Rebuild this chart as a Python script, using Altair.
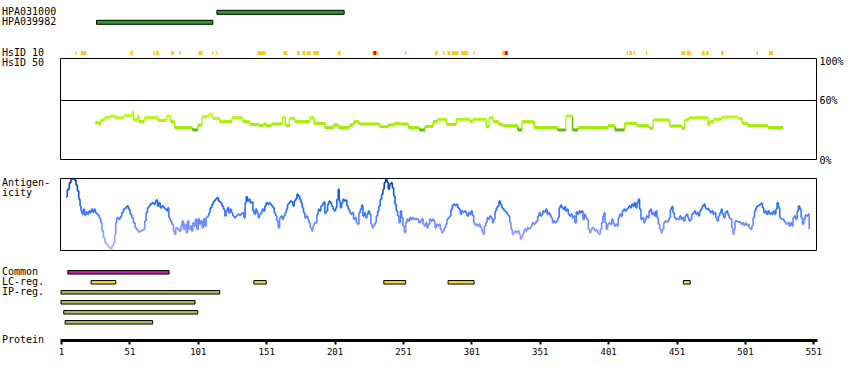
import altair as alt
import pandas as pd

FONT = "DejaVu Sans Mono"

# ---------------- data ----------------
antibody_names = ["HPA031000", "HPA039982"]
antibody_start = [115, 27]
antibody_end = [208, 112]

hs10_start = [12, 16, 52, 69, 71, 82, 88, 102, 112, 115, 145, 164, 174, 178, 181, 186, 204, 229, 253, 275,
              281, 284, 287, 294, 303, 324, 415, 417, 420, 429, 455, 459, 470, 473, 484, 510, 519]
hs10_end = [12, 19, 53, 69, 72, 83, 88, 104, 112, 115, 150, 166, 175, 179, 183, 189, 205, 232, 253, 276,
            281, 285, 291, 298, 303, 327, 415, 418, 420, 429, 457, 461, 471, 474, 485, 510, 521]
hs10_red_start = [230, 326]
hs10_red_end = [231, 327]

hs50_start = [26, 29, 30, 33, 37, 41, 47, 53, 54, 57, 58, 62, 72, 78, 81, 84, 97, 101, 104, 109,
              112, 117, 126, 134, 139, 146, 149, 151, 155, 163, 165, 168, 172, 183, 186, 194, 200, 204, 212, 215,
              219, 234, 240, 245, 249, 255, 263, 267, 273, 276, 283, 290, 300, 302, 312, 314, 317, 321, 324, 335,
              338, 347, 364, 370, 375, 379, 401, 406, 413, 422, 431, 434, 446, 455, 457, 460, 474, 475, 478, 484,
              496, 499, 503, 518]
hs50_pct = [36.7, 35.0, 39.4, 42.0, 43.3, 41.4, 43.7, 47.6, 39.4, 43.3, 37.8, 41.7, 39.0, 43.3, 37.8, 31.9, 29.6, 34.5, 42.7, 45.3,
            41.0, 37.8, 41.7, 37.8, 35.1, 33.8, 35.5, 33.8, 35.5, 42.0, 33.8, 41.0, 37.8, 41.7, 36.1, 31.9, 34.5, 31.9, 34.5, 37.8,
            35.5, 32.8, 34.5, 36.1, 35.5, 31.9, 29.6, 33.1, 37.8, 40.1, 35.1, 40.1, 37.8, 40.1, 32.8, 41.7, 37.8, 35.1, 33.8, 29.6,
            37.8, 31.9, 29.6, 43.3, 29.6, 31.9, 33.8, 29.6, 36.1, 33.8, 31.2, 39.4, 33.5, 31.2, 39.4, 41.7, 34.5, 37.8, 40.1, 42.4,
            41.0, 36.1, 33.8, 31.9]
hs50_last = 529

antigen_a = [
    (4.7, 53.3), (5.6, 60.7), (7.1, 67.3), (8.3, 70.7), (9.5, 71.3), (10.8, 70), (12, 64.7), (13, 59), (14, 50.7), (14.9, 44),
    (15.6, 39), (16.4, 35.7), (17.3, 40.7), (18.3, 34.7), (19.3, 38), (20.3, 35.7), (21.3, 39), (22.2, 37.3), (23.2, 40.7), (24.2, 38),
    (25.2, 40.7), (26.1, 37.3), (27.1, 35.7), (28.1, 34.7), (29.1, 31.3), (30.1, 27.3), (31, 19), (32, 12.3), (33.2, 7.3), (34.4, 4.7),
    (35.6, 3), (36.9, 0.7), (38.1, 4), (39.3, 7.3), (40.3, 15.7), (41, 27.3), (41.7, 32.3), (43, 30.7), (44.2, 33.3), (45.4, 37.3),
    (46.6, 40.7), (47.8, 42.3), (49.1, 44), (50.3, 40.7), (51.5, 35.7), (52.7, 32.3), (53.9, 27.3), (55.2, 22.3), (56.4, 20), (57.6, 18),
    (58.8, 19), (60, 19.7), (61.3, 20.7), (62.2, 29), (63.2, 37.3), (64.2, 42.3), (65.2, 44), (66.1, 45.7), (67.4, 47.3), (68.6, 45.7),
    (69.8, 48), (70.5, 50), (71.5, 44), (72.5, 47.3), (73.5, 42.3), (74.7, 44), (75.9, 42.3), (77.1, 40.7), (78.3, 39), (79.1, 42.3),
    (79.8, 32.3), (80.8, 29), (82, 25.7), (83.2, 19), (83.9, 15.7), (84.9, 22.3), (86.1, 20.7), (87.4, 19), (88.6, 24), (89.6, 29),
    (90.5, 20.7), (91.5, 25.7), (92.5, 17.3), (93.5, 29), (94.4, 20.7), (95.4, 24), (96.4, 19), (97.4, 27.3), (98.3, 24), (99.3, 30.7),
    (100.3, 20.7), (101.3, 31.3), (102.2, 25.7), (103.2, 29), (104.2, 22.3), (105.2, 31.3), (106.1, 24), (107.1, 32.3), (108.1, 34), (109.1, 37.3),
    (110, 42.3), (111.3, 45.7), (112.5, 49), (113.7, 50.7), (114.9, 52.3), (116.1, 49), (117.3, 47.3), (118.6, 44), (119.8, 40.7), (120.8, 34),
    (121.7, 39), (122.7, 42.3), (123.7, 37.3), (124.7, 40.7), (125.6, 37.3), (126.6, 34), (127.6, 32.3), (128.8, 34), (130, 35.7), (131.3, 34.7),
    (132.5, 36.3), (133.7, 37.3), (134.7, 32.3), (135.6, 47.3), (136.4, 53.3), (137.3, 49), (138.3, 50.7), (139.3, 47.3), (140.3, 48), (141.3, 39),
    (142.2, 35.7), (143.2, 40.7), (144.2, 37.3), (145.2, 32.3), (146.1, 35.7), (147.1, 37.3), (148.1, 40.7), (149.1, 39), (150, 44), (151, 47.3),
    (152, 45.7), (153, 47.3), (154, 45.7), (154.9, 44), (155.9, 42.3), (156.9, 37.3), (157.9, 34), (158.8, 29), (159.8, 22.3), (160.8, 32.3),
    (161.8, 34), (162.7, 30.7), (163.7, 34), (164.7, 37.3), (165.7, 40.7), (166.6, 45.7), (167.6, 47.3), (168.6, 49), (169.6, 48), (170.5, 44),
    (171.5, 49), (172.5, 51.3), (173.5, 55.7), (174.4, 54), (175.4, 50.7), (176.4, 47.3), (177.4, 42.3), (178.3, 37.3), (179.3, 32.3), (180.3, 34),
    (181.3, 30.7), (182.2, 27.3), (183.2, 22.3), (184.2, 19), (185.2, 24), (186.1, 27.3),
]
antigen_b = [
    (188.1, 35.7), (189.1, 40.7), (190, 39), (191, 44), (192, 45.7), (193, 48), (193.9, 36.7), (194.9, 39), (195.9, 45.7), (196.9, 49),
    (197.8, 47.3), (198.8, 44), (199.8, 40.7), (200.8, 39), (201.7, 42.3), (202.7, 50.7), (203.7, 60.7), (204.4, 49), (205.2, 42.3), (206.1, 47.3),
    (207.1, 50.7), (208.1, 49), (209.1, 50), (210, 44), (211, 40.7), (212, 37.3), (213, 35.7), (213.9, 37.3), (214.9, 30.7), (215.9, 32.3),
    (216.9, 27.3), (217.8, 25.7), (218.8, 37.3), (219.8, 40.7), (220.8, 44.7), (221.7, 34), (222.7, 37.3), (223.7, 32.3), (224.7, 35.7), (225.6, 39),
    (226.6, 35.7), (227.6, 25.7), (228.6, 22.3), (229.5, 24.7), (230.5, 27.3), (231.5, 34), (232.5, 39), (233.4, 44), (234.4, 50.7), (235.4, 55.7),
    (236.4, 60.7), (237.3, 67.3), (238.3, 70.7), (239.3, 68), (240.3, 60.7), (241.2, 65.7), (242.2, 67.3), (243.2, 62.3), (244.2, 54), (245.2, 45.7),
    (246.1, 39), (247.1, 34), (248.1, 27.3), (249.1, 39), (250, 32.3), (251, 24), (252, 17.3), (253, 27.3), (253.9, 30.7), (254.9, 29),
    (255.9, 32.3), (256.9, 30.7), (257.8, 32.3), (258.8, 30.7), (260, 31.3), (261.2, 30.7), (262.5, 27.3), (263.7, 29), (264.7, 31.3), (265.6, 25.7),
    (266.6, 24), (267.6, 27.3), (268.6, 22.3), (269.5, 25.7), (270.5, 30.7), (271.5, 29), (272.5, 30.7), (273.4, 29), (274.4, 22.3), (275.4, 25.7),
    (276.4, 24), (277.3, 25.7), (278.3, 20.7), (279.3, 17.3), (280.3, 19), (281.2, 22.3), (282.2, 25.7), (283.2, 30.7), (284.2, 32.3), (285.1, 34),
    (286.1, 40.7), (287.1, 44.7), (288.1, 45.7), (289, 44.7), (290, 45.7), (291, 42.3), (292, 40.7), (293, 35.7), (293.9, 39), (294.9, 38),
    (295.9, 39), (296.9, 37.3), (297.8, 34), (298.8, 37.3), (299.8, 35.7), (300.8, 39), (301.7, 34.7), (302.7, 27.3), (303.7, 24.7), (304.7, 25.7),
    (305.6, 24), (306.6, 25.7), (307.6, 22.3), (308.6, 19), (309.5, 15.7), (310.5, 24), (311.5, 27.3), (312.5, 32.3), (313.4, 30.7), (314.4, 34),
    (315.4, 32.3), (316.4, 27.3), (317.3, 30.7), (318.3, 39), (319.3, 42.3), (320.3, 44), (321.2, 49), (322.2, 45.7), (323.2, 42.3), (324.2, 40.7),
    (325.2, 39), (326.1, 38), (327.1, 35.7), (328.1, 34), (329.1, 27.3), (330, 20.7), (331, 15.7), (332, 17.3), (333, 19), (333.9, 17.3),
    (334.9, 19), (335.9, 15.7), (336.9, 10.7), (337.8, 14), (338.8, 17.3), (339.8, 20.7), (340.8, 19), (341.7, 22.3), (342.7, 20.7), (343.7, 22.3),
    (344.7, 24), (345.6, 27.3), (346.6, 25.7), (347.6, 27.3), (348.6, 29), (349.5, 34), (350.5, 37.3), (351.5, 34), (352.5, 35.7), (353.4, 39),
    (354.4, 38), (355.4, 40.7), (356.4, 35.7), (357.3, 37.3), (358.3, 34.7), (359.3, 32.3), (360.3, 27.3), (361.2, 29), (362.2, 27.3), (363.2, 29),
    (364.2, 32.3), (365.2, 42.3), (366.1, 44.7), (367.1, 42.3), (368.1, 40.7), (369.1, 43.3),
]
antigen_c = [
    (369.9, 39), (370.9, 40.7), (371.9, 35.7), (372.8, 34), (373.8, 35.7), (374.8, 32.3), (375.8, 34), (376.7, 27.3), (377.7, 38), (378.7, 35.7),
    (379.7, 39), (380.6, 37.3), (381.6, 39), (382.6, 30.7), (383.6, 35.7), (384.5, 32.3), (385.5, 30.7), (386.5, 20.7), (387.5, 17.3), (388.4, 20.7),
    (389.4, 22.3), (390.4, 20.7), (391.4, 19), (392.3, 20), (393.3, 17.3), (394.3, 15.7), (395.3, 20.7), (396.2, 27.3), (397.2, 34), (398, 37.3),
    (398.7, 27.3), (399.7, 20.7), (400.6, 25.7), (401.6, 27.3), (402.6, 25.7), (403.6, 30.7), (404.5, 27.3), (405.5, 24), (406.5, 25.7), (407.5, 24),
    (408.4, 32.3), (409.4, 35.7), (410.4, 34), (411.4, 39), (412.3, 40.7), (413.3, 39), (414.3, 40.7), (415.3, 42.3), (416.2, 44), (417.2, 42.3),
    (418.2, 45.7), (419.2, 44), (420.1, 47.3), (421.1, 42.3), (422.1, 47.3), (423.1, 50.7), (424, 40.7), (425, 30.7), (426, 32.3), (427, 27.3),
    (428, 30.7), (428.9, 34), (429.9, 32.3), (430.9, 39), (431.9, 40.7), (432.8, 35.7), (433.8, 37.3), (434.8, 34), (435.8, 39), (436.7, 32.3),
    (437.7, 25.7), (438.7, 20.7), (439.7, 17.3), (440.6, 20.7), (441.6, 27.3), (442.6, 29), (443.6, 28), (444.5, 29), (445.5, 32.3), (446.5, 40.7),
    (447.5, 43.3), (448.4, 37.3), (449.4, 32.3), (450.4, 30.7), (451.4, 31.3), (452.3, 30.7), (453.3, 34), (454.3, 30.7), (455.3, 32.3), (456.2, 29),
    (457.2, 34), (458.2, 35.7), (459.2, 32.3), (460.1, 29), (461.1, 30.7), (462.1, 35.7), (463.1, 37.3), (464, 39), (465, 35.7), (466, 37.3),
    (467, 34), (467.9, 39), (468.9, 41.3), (469.9, 44), (470.9, 45.7), (471.9, 42.3), (472.8, 40.7), (473.8, 41.3), (474.8, 39), (475.8, 37.3),
    (476.7, 39), (477.7, 35.7), (478.7, 37.3), (479.7, 32.3), (480.6, 29), (481.6, 34), (482.6, 37.3), (483.6, 40.7), (484.5, 35.7), (485.5, 32.3),
    (486.5, 37.3), (487.5, 39), (488.4, 35.7), (489.4, 32.3), (490.4, 30.7), (491.4, 22.3), (492.3, 15.7), (493.1, 20.7), (493.8, 29), (495.3, 28.3),
    (496.7, 28), (498.2, 25.7), (499.2, 27.3), (500.1, 24.7), (501.1, 26.7), (502.1, 24.7), (503.1, 25.7), (504, 22.3), (505, 20.7), (506, 24),
    (507, 32.3), (508, 39), (508.9, 42.3), (509.9, 44), (510.9, 44.7), (511.9, 45.7), (512.8, 46.7), (513.8, 42.3), (514.8, 37.3), (515.8, 39),
    (516.7, 35.7), (517.7, 39), (518.7, 35.7), (519.7, 37.3), (520.6, 35.7), (521.6, 39), (522.6, 35.7), (523.6, 40.7), (524.5, 47.3), (525.5, 42.3),
    (526.5, 32.3), (527.5, 30.7), (528.4, 31.3), (529.4, 29), (530.4, 27.3), (531.4, 25.7), (532.3, 27.3), (533.3, 24), (534.3, 27.3), (535.3, 24),
    (536.2, 32.3), (537.2, 34), (538.2, 30.7), (539.2, 39), (540.1, 44), (541.1, 40.7), (542.1, 32.3), (543.1, 25.7), (544, 30.7), (545, 34.7),
    (546, 34), (547, 35.7), (548, 20.7),
]

track_rows = ["Common", "LC-reg.", "LC-reg.", "LC-reg.", "LC-reg.", "LC-reg.", "IP-reg.", "IP-reg. 2", "IP-reg. 3", "IP-reg. 4"]
track_kind = ["Common", "LC", "LC", "LC", "LC", "LC", "IP", "IP", "IP", "IP"]
track_start = [6, 23, 142, 237, 284, 456, 1, 1, 3, 4]
track_end = [80, 41, 151, 253, 303, 461, 117, 99, 101, 68]
row_order = ["Common", "LC-reg.", "IP-reg.", "IP-reg. 2", "IP-reg. 3", "IP-reg. 4"]
row_labels = ["Common", "LC-reg.", "IP-reg."]

tick_values = [1, 51, 101, 151, 201, 251, 301, 351, 401, 451, 501, 551]
protein_length = 554
pct_labels = ["100%", "60%", "0%"]

# ---------------- layout ----------------
X_DOM = [0.27, 553.7]
X_RNG = [60, 817]
AB_RANGE = [7.3, 27.3]
TRACK_RANGE = [267.3, 327.3]
HS50_RANGE = [160, 58.5]
AG_RANGE = [250, 179]


def xs():
    return alt.Scale(domain=X_DOM, range=X_RNG, nice=False, zero=False)


one = pd.DataFrame({"k": [0]})
layers = []

# antibody bars + names
ab_df = pd.DataFrame({"ab": antibody_names, "start": antibody_start, "end": antibody_end})
ab_scale = alt.Scale(type="band", domain=antibody_names, range=AB_RANGE, paddingInner=0, paddingOuter=0)
layers.append(alt.Chart(ab_df).mark_bar(size=4, color="#22a21e", stroke="black", strokeWidth=1).encode(
    x=alt.X("start:Q", scale=xs(), axis=None), x2="end:Q",
    y=alt.Y("ab:N", scale=ab_scale, axis=None)))
layers.append(alt.Chart(ab_df).mark_text(align="left", baseline="middle", font=FONT, fontSize=10, color="black").encode(
    x=alt.value(2), y=alt.Y("ab:N", scale=ab_scale, axis=None), text="ab:N"))

# HsID 10 blocks
h10 = pd.DataFrame({"s": hs10_start, "e": hs10_end})
h10r = pd.DataFrame({"s": hs10_red_start, "e": hs10_red_end})
for df, col in [(h10, "#ffc81e"), (h10r, "#ff0000")]:
    layers.append(alt.Chart(df).transform_calculate(a="datum.s - 0.5", b="datum.e + 0.5").mark_rect(color=col).encode(
        x=alt.X("a:Q", scale=xs(), axis=None), x2="b:Q", y=alt.value(51), y2=alt.value(55)))

# HsID 50 frame
layers.append(alt.Chart(one).mark_rect(fillOpacity=0, stroke="black", strokeWidth=1).encode(
    x=alt.value(60.5), x2=alt.value(816.5), y=alt.value(58.5), y2=alt.value(159.5)))
layers.append(alt.Chart(one).mark_rule(color="black", strokeWidth=1).encode(
    x=alt.value(60.5), x2=alt.value(816.5), y=alt.value(100.5)))

hs_scale = alt.Scale(domain=[0, 100], range=HS50_RANGE, nice=False, zero=False)
hs_color = alt.Scale(domain=[29.6, 31, 38, 48], range=["#5cbf00", "#99ec00", "#aaf000", "#d0ff33"])
h_df = pd.DataFrame({"x": hs50_start, "x2": hs50_start[1:] + [hs50_last], "p": hs50_pct})
v_df = pd.DataFrame({"x": hs50_start[1:], "p": hs50_pct[:-1], "p2": hs50_pct[1:]})
layers.append(alt.Chart(v_df).mark_rule(strokeWidth=1.5).encode(
    x=alt.X("x:Q", scale=xs(), axis=None),
    y=alt.Y("p:Q", scale=hs_scale, axis=None), y2="p2:Q",
    color=alt.Color("p2:Q", scale=hs_color, legend=None)))
layers.append(alt.Chart(h_df).mark_rule(strokeWidth=3).encode(
    x=alt.X("x:Q", scale=xs(), axis=None), x2="x2:Q",
    y=alt.Y("p:Q", scale=hs_scale, axis=None),
    color=alt.Color("p:Q", scale=hs_color, legend=None)))

# antigenicity frame + stepped profile
layers.append(alt.Chart(one).mark_rect(fillOpacity=0, stroke="black", strokeWidth=1).encode(
    x=alt.value(60.5), x2=alt.value(816.5), y=alt.value(178.5), y2=alt.value(250.5)))
ag = antigen_a + antigen_b + antigen_c
ag_x = [p[0] for p in ag]
ag_v = [p[1] for p in ag]
ag_h = pd.DataFrame({"x": ag_x[:-1], "x2": ag_x[1:], "v": ag_v[:-1]})
ag_vert = pd.DataFrame({"x": ag_x[1:], "v": ag_v[:-1], "v2": ag_v[1:]})
ag_vert["c"] = (ag_vert["v"] + ag_vert["v2"]) / 2
ag_scale = alt.Scale(domain=[0, 71], range=AG_RANGE, nice=False, zero=False)
ag_color = alt.Scale(domain=[0, 12, 25, 40, 55, 71],
                     range=["#c8b4ff", "#a09cff", "#6f8cff", "#2a72ff", "#105fe6", "#0a3c8c"])
layers.append(alt.Chart(ag_vert).mark_rule(strokeWidth=1.6).encode(
    x=alt.X("x:Q", scale=xs(), axis=None),
    y=alt.Y("v:Q", scale=ag_scale, axis=None), y2="v2:Q",
    color=alt.Color("c:Q", scale=ag_color, legend=None)))
layers.append(alt.Chart(ag_h).mark_rule(strokeWidth=2).encode(
    x=alt.X("x:Q", scale=xs(), axis=None), x2="x2:Q",
    y=alt.Y("v:Q", scale=ag_scale, axis=None),
    color=alt.Color("v:Q", scale=ag_color, legend=None)))

# feature tracks
tr_df = pd.DataFrame({"row": track_rows, "kind": track_kind, "start": track_start, "end": track_end})
tr_scale = alt.Scale(type="band", domain=row_order, range=TRACK_RANGE, paddingInner=0, paddingOuter=0)
layers.append(alt.Chart(tr_df).mark_bar(size=3.5, stroke="black", strokeWidth=1).encode(
    x=alt.X("start:Q", scale=xs(), axis=None), x2="end:Q",
    y=alt.Y("row:N", scale=tr_scale, axis=None),
    color=alt.Color("kind:N", scale=alt.Scale(domain=["Common", "LC", "IP"],
                                              range=["#c81fa8", "#efd744", "#9fc05a"]), legend=None)))
layers.append(alt.Chart(pd.DataFrame({"row": row_labels})).mark_text(
    align="left", baseline="middle", font=FONT, fontSize=10, color="black").encode(
    x=alt.value(2), y=alt.Y("row:N", scale=tr_scale, axis=None), text="row:N"))

# other left-hand labels and right-hand percent labels
txt = dict(align="left", baseline="middle", font=FONT, fontSize=10, color="black")
for label, ypx in [("HsID 10", 52.7), ("HsID 50", 62.7), ("Antigen-", 182.7), ("icity", 193.3), ("Protein", 340)]:
    layers.append(alt.Chart(one).mark_text(text=label, **txt).encode(x=alt.value(2), y=alt.value(ypx)))
for label, ypx in zip(pct_labels, [62.3, 100.7, 160.5]):
    layers.append(alt.Chart(one).mark_text(text=label, **txt).encode(x=alt.value(819.5), y=alt.value(ypx)))

# protein ruler (x axis)
ax_df = pd.DataFrame({"pos": tick_values})
layers.append(alt.Chart(ax_df).mark_point(opacity=0).encode(
    x=alt.X("pos:Q", scale=xs(),
            axis=alt.Axis(values=tick_values + [protein_length], title=None, grid=False,
                          domainColor="black", domainWidth=3, tickColor="black", tickWidth=2, tickSize=4,
                          labelFont=FONT, labelFontSize=9, labelColor="black", labelPadding=3,
                          labelFlush=False, labelOverlap=False,
                          labelExpr="datum.value > 552 ? '' : datum.label")),
    y=alt.value(0)))

chart = alt.layer(*layers).resolve_scale(
    x="independent", y="independent", color="independent"
).properties(
    width=850, height=340,
    autosize=alt.AutoSizeParams(type="none"),
    padding={"left": 0, "right": 0, "top": 0, "bottom": 40},
    background="white",
).configure_view(stroke=None)

chart.save("out.html", embed_options={"renderer": "svg", "actions": False})
